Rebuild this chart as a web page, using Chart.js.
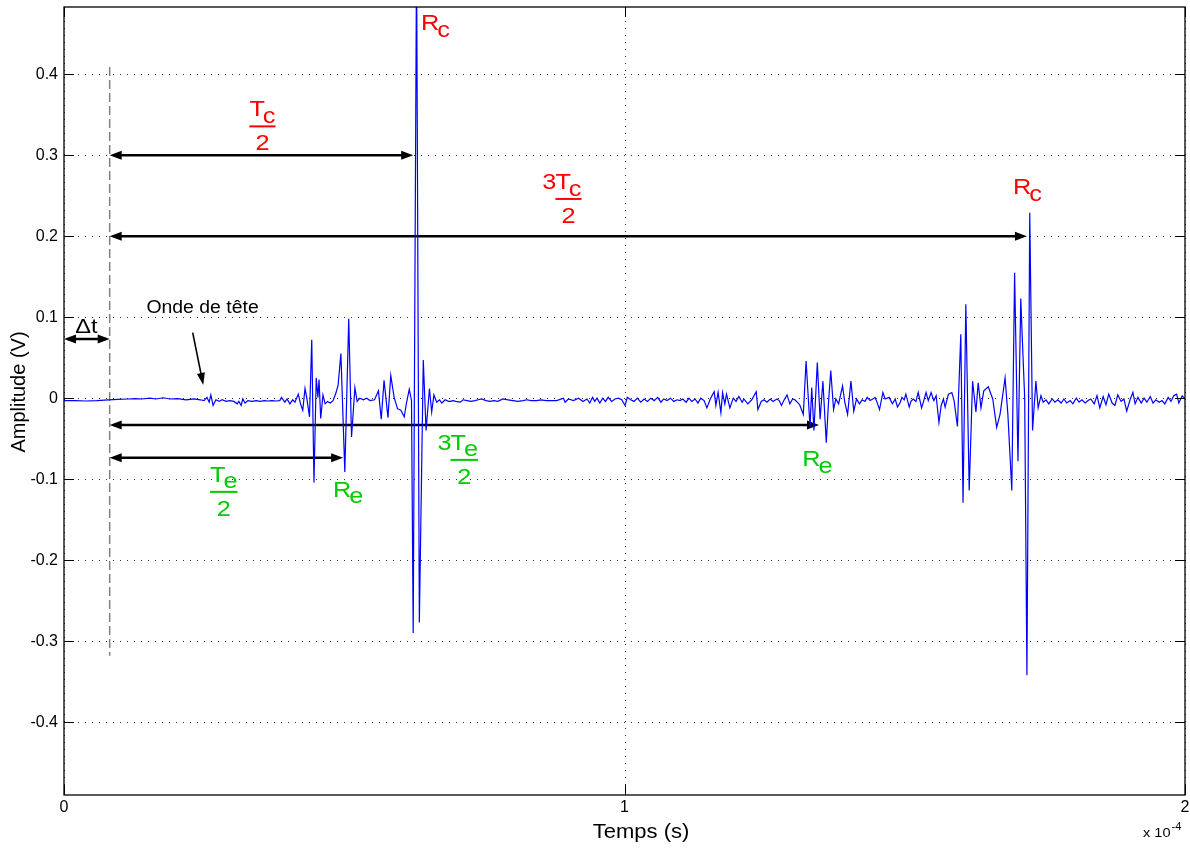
<!DOCTYPE html>
<html>
<head>
<meta charset="utf-8">
<script src="https://cdn.jsdelivr.net/npm/chart.js@4.4.1/dist/chart.umd.min.js"></script>
<style>
  html, body { margin: 0; padding: 0; background: #fff; }
  canvas { display: block; }
</style>
</head>
<body>
<canvas id="chart" width="1190" height="848"></canvas>
<script>
// Signal: time in microseconds, amplitude in volts
const timeUs = [
  0.0, 2.0, 3.9, 5.9, 7.9, 9.6, 11.4, 12.7, 13.9, 15.3, 16.4, 17.7, 18.9, 20.3, 21.8, 23.2, 24.3,
  25.0, 25.5, 25.9, 26.2, 26.6, 27.1, 27.7, 28.2, 28.9, 29.6, 30.3, 30.9, 31.2, 31.6, 31.9, 32.3,
  32.8, 33.5, 34.3, 35.0, 35.7, 36.4, 37.1, 37.8, 38.5,
  38.8, 39.4, 39.8, 40.3, 40.8, 41.2, 41.8, 42.2, 42.6, 43.0, 43.3, 43.8, 44.2, 44.6, 45.0, 45.3,
  45.5, 45.8, 46.2, 46.6, 47.0, 47.5, 48.0, 48.5, 48.9, 49.4, 50.1, 50.8, 51.3, 51.9, 52.3, 52.8,
  53.4, 54.0, 54.6, 55.4, 56.1, 56.6, 57.1, 57.8, 58.3, 58.9, 59.5, 60.1, 60.7, 61.1, 61.6, 62.0,
  62.3, 62.9, 63.4, 64.1, 64.6, 65.2, 65.6, 66.0, 66.5, 67.0, 67.4, 68.0, 68.6,
  68.9, 69.4, 69.9, 70.7, 71.2, 71.9, 72.6, 73.3, 73.9, 74.5, 75.3, 76.0, 76.7, 77.4, 78.3, 79.2,
  80.1, 81.0, 81.9, 82.6, 83.3, 84.3, 85.1, 86.0, 86.9, 87.9, 89.1, 89.4, 90.0, 90.9, 91.8, 92.6,
  93.3, 93.8, 94.3, 94.7, 95.1, 95.6, 96.1, 96.6, 97.1, 97.7, 98.3, 98.9, 99.5, 100.1, 100.5,
  101.1, 101.7, 102.3, 102.9, 103.5, 104.1, 104.7, 105.3, 105.9, 106.5, 107.0, 107.6, 108.2,
  108.8, 109.4,
  109.9, 110.4, 111.0, 111.5, 112.0, 112.6, 113.1, 113.6, 114.2, 114.7, 115.3, 116.0, 116.3,
  116.7, 117.2, 117.5, 117.9, 118.2, 118.8, 119.4, 119.9, 120.4, 121.0, 121.3, 122.0, 122.7,
  123.5, 123.8, 124.4, 124.9, 125.4, 126.0, 126.5, 127.2, 127.6, 128.0, 128.5, 129.0, 129.5,
  130.0, 130.4, 131.0, 131.3, 131.9, 132.4, 133.1, 133.4, 133.8, 134.4, 134.9, 135.4, 136.0,
  136.4, 136.8, 137.3, 137.7, 138.2, 138.9, 139.3, 139.8, 140.4, 140.9, 141.4, 141.9,
  142.4, 142.9, 143.3, 143.8, 144.3, 144.7, 145.0, 145.5, 146.1, 146.5, 147.2, 147.8, 148.3,
  148.7, 149.2, 149.5, 149.9, 150.2, 150.8, 151.1, 151.5, 152.0, 152.4, 153.0, 153.4, 153.8,
  154.2, 154.7, 155.2, 155.6, 156.1, 156.5, 156.9, 157.2, 157.8, 158.4, 158.8, 159.4, 160.0,
  160.4, 160.9, 161.5, 162.1, 162.7, 163.1, 163.6, 164.1, 164.9, 165.7, 166.4, 167.0, 167.9,
  168.4, 169.1, 169.6, 170.2, 170.7, 171.0, 171.4, 171.8, 172.3, 172.8, 173.4, 173.8, 174.3,
  174.7, 175.2, 175.7, 176.3, 176.8, 177.3, 177.9, 178.4, 178.9, 179.5, 180.0, 180.6, 181.1,
  181.6, 182.2, 182.7, 183.2, 183.8, 184.3, 184.8, 185.4, 185.9, 186.4, 187.0, 187.5, 188.0,
  188.6, 189.1, 189.6, 190.2, 190.7, 191.1, 191.6, 192.2, 192.7, 193.2, 193.8, 194.3, 194.8,
  195.4, 195.9, 196.4, 197.0, 197.5, 198.0, 198.5, 198.9, 199.5, 200.0
];
const amplitudeV = [
  -0.003, -0.003, -0.0035, -0.003, -0.002, -0.0015, -0.001, -0.0005, -0.001, 0.0, -0.001, 0.0005, -0.001, -0.0005, -0.002, -0.001, -0.002,
  -0.003, 0.001, -0.005, 0.004, -0.009, -0.002, -0.004, -0.002, -0.004, -0.003, -0.004, -0.007, -0.004, -0.009, -0.001, -0.006,
  -0.003, -0.004, -0.003, -0.004, -0.003, -0.0035, -0.003, -0.0035, -0.003,
  0.001, -0.005, -0.001, -0.007, -0.002, -0.005, 0.005, -0.007, -0.015, 0.012, 0.001, -0.023, 0.072, -0.104, 0.025, 0.001,
  0.023, -0.025, 0.004, -0.007, -0.004, -0.006, -0.003, 0.006, 0.016, 0.055, -0.091, 0.098, -0.048, 0.013, -0.004, 0.0,
  -0.002, 0.0, -0.003, -0.002, 0.009, -0.026, 0.022, -0.024, 0.028, 0.001, -0.013, -0.015, -0.023, -0.006, 0.011, -0.003,
  -0.29, 0.55, -0.277, 0.047, -0.04, 0.012, -0.017, 0.004, -0.005, -0.002, -0.006, -0.002, -0.004,
  -0.004, -0.003, -0.004, -0.005, -0.002, -0.003, -0.004, -0.003, -0.002, -0.001, -0.003, -0.004, -0.003, -0.004, -0.001, -0.002,
  -0.003, -0.004, -0.003, -0.002, -0.003, -0.003, -0.002, -0.003, -0.003, -0.003, 0.0, -0.005, -0.001, -0.003, 0.0, -0.004,
  -0.001, -0.006, 0.001, -0.004, 0.0, -0.006, 0.0, -0.004, 0.001, -0.004, -0.001, 0.0, -0.002, -0.009, 0.001,
  -0.002, -0.004, 0.0, -0.005, -0.001, -0.004, 0.0, -0.003, 0.001, -0.005, -0.001, -0.003, 0.0,
  -0.004, -0.002,
  -0.003, -0.001, -0.005, 0.0, -0.004, -0.001, -0.006, 0.0, -0.003, -0.012, -0.001, 0.008, -0.009,
  0.007, -0.018, 0.007, -0.007, 0.005, -0.012, 0.0, -0.004, 0.002, -0.005, -0.001, -0.007, -0.002,
  0.008, -0.014, -0.004, -0.002, -0.005, -0.001, -0.004, -0.001, -0.003, -0.009, -0.002, 0.004, -0.007,
  -0.001, -0.002, -0.006, -0.009, -0.020, 0.046, -0.036, 0.013, -0.040, 0.044, -0.026, 0.021, -0.055,
  -0.005, 0.034, -0.014, -0.001, -0.007, 0.015, -0.005, -0.020, 0.021, -0.016, -0.001, -0.007,
  -0.002, -0.004, 0.001, -0.003, -0.001, 0.001, -0.004, -0.014, 0.007, -0.001, 0.001, -0.007, -0.001,
  -0.011, -0.005, 0.001, -0.002, 0.005, -0.011, -0.004, -0.001, -0.004, 0.007, -0.012, -0.003, 0.007,
  -0.003, 0.007, -0.003, 0.003, -0.030, -0.009, -0.001, -0.011, 0.005, 0.007, -0.003, -0.035, 0.079,
  -0.129, 0.116, -0.114, 0.021, -0.017, 0.019, -0.012, 0.009, 0.014, -0.001, -0.036, -0.020, 0.025,
  -0.020, -0.114, 0.155, -0.078, 0.123, 0.069, 0.0, -0.342, 0.229, -0.040, 0.021, -0.012, 0.003,
  -0.005, -0.002, -0.007, -0.001, -0.005, -0.002, -0.006, -0.001, -0.006, -0.003, -0.007, 0.0, -0.005,
  -0.002, -0.006, -0.003, -0.001, -0.007, 0.003, -0.012, 0.002, -0.008, 0.005, -0.006, -0.009, 0.004,
  -0.004, -0.001, -0.016, -0.002, 0.007, -0.007, 0.001, -0.006, 0.0, -0.005, 0.002, -0.006, -0.002,
  -0.005, -0.003, -0.007, 0.001, -0.004, 0.003, 0.005, -0.006, 0.003, -0.001
];

// Axis ticks (x is shown in units of 1e-4 s)
const xTickValues = [0, 100, 200];
const xTickLabels = ['0', '1', '2'];
const yTickValues = [-0.4, -0.3, -0.2, -0.1, 0, 0.1, 0.2, 0.3, 0.4];
const yTickLabels = ['-0.4', '-0.3', '-0.2', '-0.1', '0', '0.1', '0.2', '0.3', '0.4'];
const yMin = -0.49, yMax = 0.483;

const FONT = '"Liberation Sans", Arial, Helvetica, sans-serif';
const RED = '#ff0000';
const GREEN = '#00cc00';
const STRETCH = 1.15; // the annotation text is a bit wider than plain Arial

Chart.defaults.font.family = FONT;
Chart.defaults.color = '#000';

// text drawn with a horizontal stretch
function sText(ctx, str, x, y, size, k, align, color) {
  ctx.save();
  ctx.font = size + 'px ' + FONT;
  ctx.fillStyle = color;
  ctx.textAlign = 'left';
  ctx.textBaseline = 'alphabetic';
  const w = ctx.measureText(str).width * k;
  let x0 = x;
  if (align === 'center') x0 = x - w / 2;
  else if (align === 'right') x0 = x - w;
  ctx.translate(x0, y);
  ctx.scale(k, 1);
  ctx.fillText(str, 0, 0);
  ctx.restore();
  return w;
}

function subWidth(ctx, main, sub, size, k) {
  ctx.font = size + 'px ' + FONT;
  return (ctx.measureText(main).width - size * 0.08 + ctx.measureText(sub).width) * k;
}

function subText(ctx, x, y, main, sub, size, color) {
  const w = sText(ctx, main, x, y, size, STRETCH, 'left', color) - size * 0.08 * STRETCH;
  sText(ctx, sub, x + w, y + size * 0.3, size, STRETCH, 'left', color);
}

// "pre" + main_sub over a bar, den below, bar only under main_sub
function fraction(ctx, cx, ly, pre, main, sub, den, size, color) {
  const w = subWidth(ctx, main, sub, size, STRETCH);
  const x0 = cx - w / 2;
  if (pre) sText(ctx, pre, x0 + 1, ly - 10, size, STRETCH, 'right', color);
  subText(ctx, x0, ly - 10, main, sub, size, color);
  ctx.fillStyle = color;
  ctx.fillRect(x0, ly - 1, w, 2);
  sText(ctx, den, cx, ly + 24, size, STRETCH, 'center', color);
}

function hArrow(ctx, x1, x2, y) {
  const L = 12, W = 4.5;
  ctx.save();
  ctx.strokeStyle = '#000';
  ctx.fillStyle = '#000';
  ctx.lineWidth = 2.5;
  ctx.beginPath(); ctx.moveTo(x1 + 4, y); ctx.lineTo(x2 - 4, y); ctx.stroke();
  ctx.beginPath(); ctx.moveTo(x1, y); ctx.lineTo(x1 + L, y - W); ctx.lineTo(x1 + L, y + W); ctx.closePath(); ctx.fill();
  ctx.beginPath(); ctx.moveTo(x2, y); ctx.lineTo(x2 - L, y - W); ctx.lineTo(x2 - L, y + W); ctx.closePath(); ctx.fill();
  ctx.restore();
}

const annotations = {
  id: 'annotations',
  beforeDatasetsDraw(chart) {
    const { ctx, chartArea: a, scales: { x, y } } = chart;
    const X = t => x.getPixelForValue(t);
    const Y = v => y.getPixelForValue(v);
    ctx.save();

    // dotted grid
    ctx.strokeStyle = '#333';
    ctx.lineWidth = 1;
    ctx.setLineDash([1, 6]);
    yTickValues.forEach(v => {
      const py = Math.round(Y(v)) + 0.5;
      ctx.beginPath(); ctx.moveTo(a.left, py); ctx.lineTo(a.right, py); ctx.stroke();
    });
    xTickValues.forEach(t => {
      const px = Math.round(X(t)) + 0.5;
      ctx.beginPath(); ctx.moveTo(px, a.top); ctx.lineTo(px, a.bottom); ctx.stroke();
    });

    // dashed time marker
    const t0 = 8.15;
    ctx.strokeStyle = '#808080';
    ctx.lineWidth = 1.5;
    ctx.setLineDash([9, 4]);
    ctx.beginPath(); ctx.moveTo(X(t0), Y(0.409)); ctx.lineTo(X(t0), Y(-0.318)); ctx.stroke();
    ctx.setLineDash([]);

    // time arrows
    hArrow(ctx, X(0), X(t0), Y(0.0732));
    hArrow(ctx, X(t0), X(62.3), Y(0.3));
    hArrow(ctx, X(t0), X(171.8), Y(0.2));
    hArrow(ctx, X(t0), X(134.7), Y(-0.033));
    hArrow(ctx, X(t0), X(49.8), Y(-0.0737));

    // black labels
    sText(ctx, '\u0394t', X(4.0), Y(0.0806), 21, 1.12, 'center', '#000');
    sText(ctx, 'Onde de t\u00eate', X(14.7), Y(0.1053), 17.5, 1.11, 'left', '#000');

    // pointer to the head wave
    const sx = X(22.96), sy = Y(0.081), ex = X(24.85), ey = Y(0.0164);
    const ang = Math.atan2(ey - sy, ex - sx);
    const c = Math.cos(ang), s = Math.sin(ang);
    ctx.strokeStyle = '#000';
    ctx.fillStyle = '#000';
    ctx.lineWidth = 1.6;
    ctx.beginPath(); ctx.moveTo(sx, sy); ctx.lineTo(ex - 8 * c, ey - 8 * s); ctx.stroke();
    ctx.beginPath();
    ctx.moveTo(ex, ey);
    ctx.lineTo(ex - 12 * c + 4 * s, ey - 12 * s - 4 * c);
    ctx.lineTo(ex - 12 * c - 4 * s, ey - 12 * s + 4 * c);
    ctx.closePath(); ctx.fill();

    // echo labels
    fraction(ctx, X(35.4), Y(0.3356), '', 'T', 'c', '2', 22, RED);
    fraction(ctx, X(90.0), Y(0.246), '3', 'T', 'c', '2', 22, RED);
    fraction(ctx, X(28.5), Y(-0.1157), '', 'T', 'e', '2', 22, GREEN);
    fraction(ctx, X(71.4), Y(-0.0762), '3', 'T', 'e', '2', 22, GREEN);

    subText(ctx, X(63.7), Y(0.4547), 'R', 'c', 22, RED);
    subText(ctx, X(169.3), Y(0.2522), 'R', 'c', 22, RED);
    subText(ctx, X(48.0), Y(-0.1219), 'R', 'e', 22, GREEN);
    subText(ctx, X(131.7), Y(-0.0843), 'R', 'e', 22, GREEN);

    ctx.restore();
  },
  afterDatasetsDraw(chart) {
    const { ctx, chartArea: a, scales: { x, y } } = chart;
    ctx.save();
    // inner tick marks
    ctx.strokeStyle = '#000';
    ctx.lineWidth = 1;
    yTickValues.forEach(v => {
      const py = Math.round(y.getPixelForValue(v)) + 0.5;
      ctx.beginPath(); ctx.moveTo(a.left, py); ctx.lineTo(a.left + 10, py); ctx.stroke();
      ctx.beginPath(); ctx.moveTo(a.right - 10, py); ctx.lineTo(a.right, py); ctx.stroke();
    });
    xTickValues.forEach(t => {
      const px = Math.round(x.getPixelForValue(t)) + 0.5;
      ctx.beginPath(); ctx.moveTo(px, a.bottom); ctx.lineTo(px, a.bottom - 10); ctx.stroke();
      ctx.beginPath(); ctx.moveTo(px, a.top); ctx.lineTo(px, a.top + 10); ctx.stroke();
    });
    // frame
    ctx.lineWidth = 1.3;
    ctx.strokeRect(a.left, a.top, a.right - a.left, a.bottom - a.top);

    // axis titles
    sText(ctx, 'Temps (s)', 641, 838, 20, 1.1, 'center', '#000');
    ctx.save();
    ctx.translate(25, 392);
    ctx.rotate(-Math.PI / 2);
    sText(ctx, 'Amplitude (V)', 0, 0, 20, 1, 'center', '#000');
    ctx.restore();

    // exponent of the time axis
    const w = sText(ctx, 'x 10', 1143, 837, 13, 1.12, 'left', '#000');
    sText(ctx, '-4', 1143 + w + 1, 830, 10, 1.12, 'left', '#000');
    ctx.restore();
  }
};

const points = timeUs.map((t, i) => ({ x: t, y: amplitudeV[i] }));

new Chart(document.getElementById('chart').getContext('2d'), {
  type: 'line',
  data: {
    datasets: [{
      data: points,
      borderColor: '#0000ff',
      borderWidth: 1.2,
      pointRadius: 0,
      tension: 0,
      fill: false
    }]
  },
  options: {
    responsive: false,
    animation: false,
    layout: { padding: { top: 7, right: 5, left: 0, bottom: 0 } },
    plugins: { legend: { display: false }, tooltip: { enabled: false } },
    scales: {
      x: {
        type: 'linear', min: 0, max: 200,
        grid: { display: false, drawTicks: false },
        border: { display: false },
        afterBuildTicks: s => { s.ticks = xTickValues.map(v => ({ value: v })); },
        afterFit: s => { s.height = 53; s.paddingLeft = 0; s.paddingRight = 0; },
        ticks: {
          autoSkip: false, maxRotation: 0, padding: 3,
          font: { size: 16 }, color: '#000',
          callback: (v, i) => xTickLabels[i]
        }
      },
      y: {
        type: 'linear', min: yMin, max: yMax,
        grid: { display: false, drawTicks: false },
        border: { display: false },
        afterBuildTicks: s => { s.ticks = yTickValues.map(v => ({ value: v })); },
        afterFit: s => { s.width = 64; s.paddingTop = 0; s.paddingBottom = 0; },
        ticks: {
          autoSkip: false, padding: 6,
          font: { size: 16 }, color: '#000',
          callback: (v, i) => yTickLabels[i]
        }
      }
    }
  },
  plugins: [annotations]
});
</script>
</body>
</html>
